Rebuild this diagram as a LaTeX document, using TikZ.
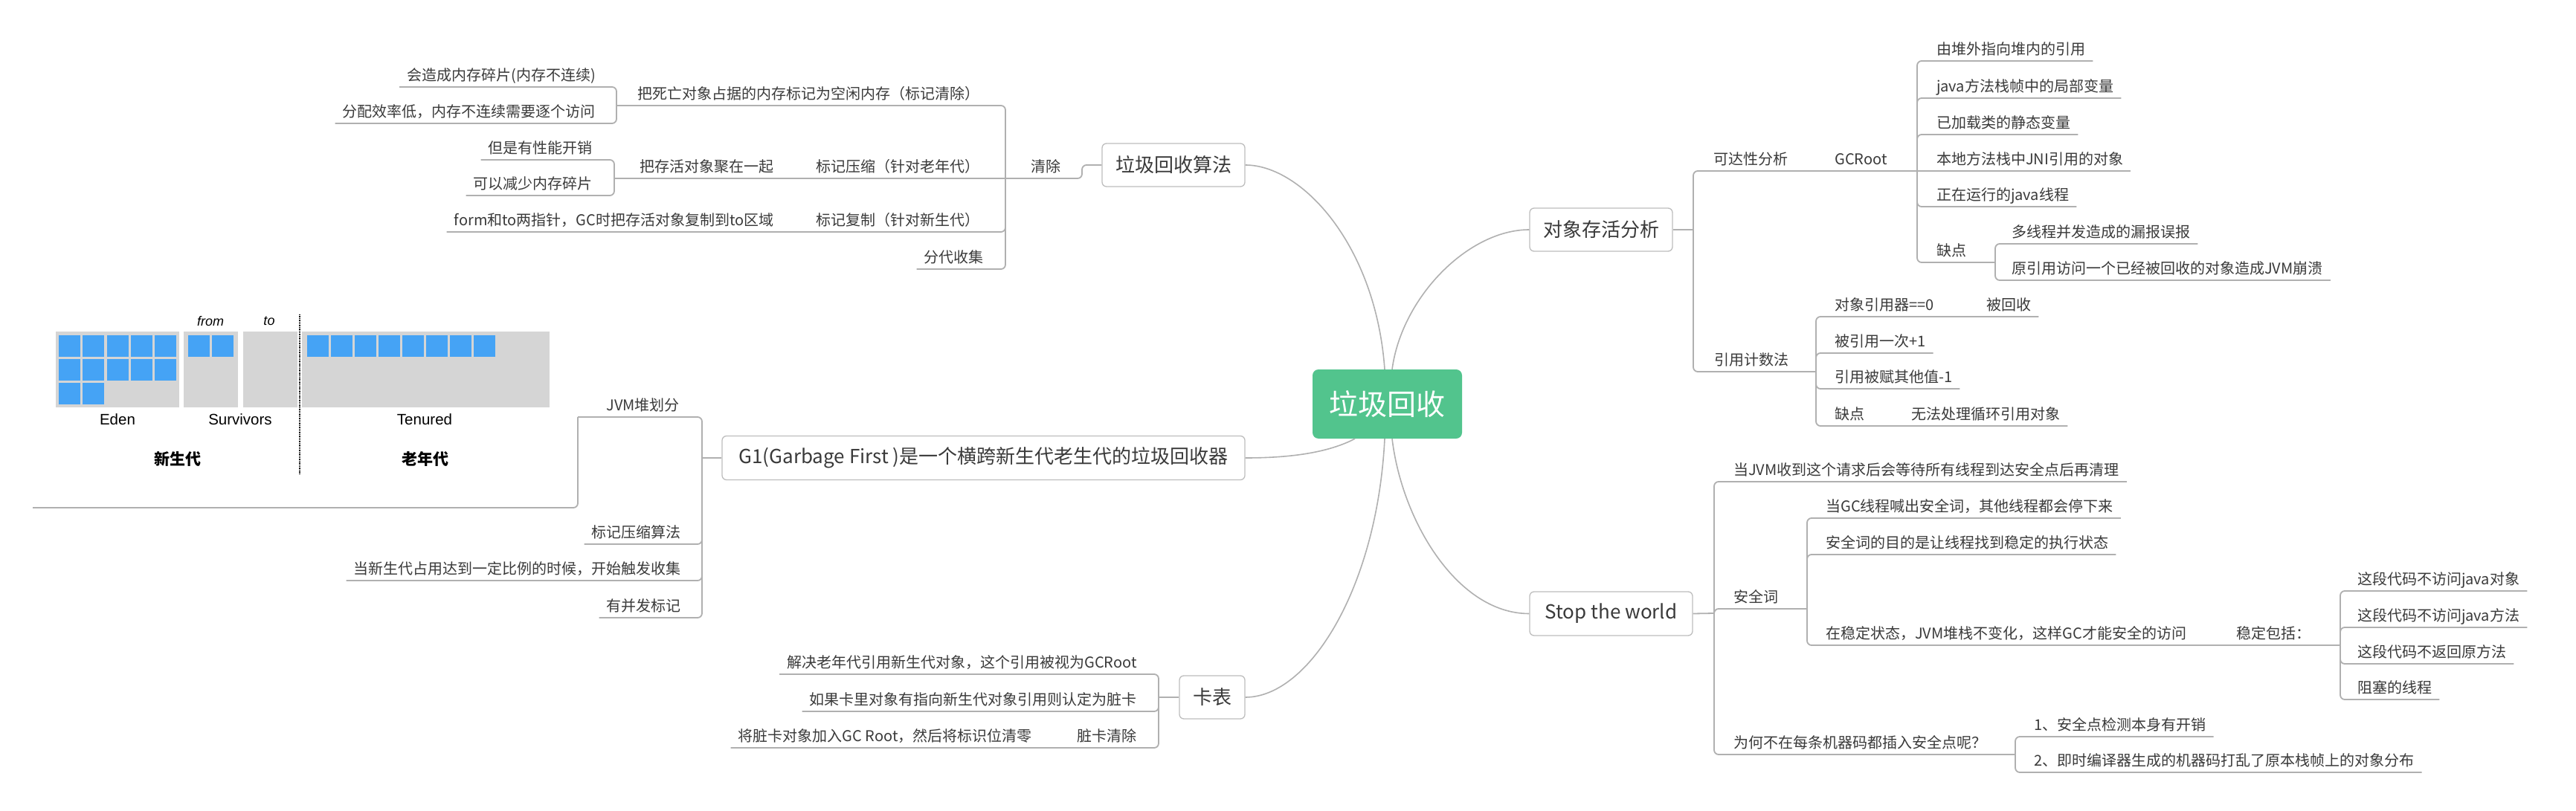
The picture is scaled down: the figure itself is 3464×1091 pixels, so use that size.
\documentclass[tikz,border=0pt]{standalone}
\usepackage{fontspec}
\setmainfont{Noto Sans CJK SC}
\newfontfamily\arialf{Liberation Sans}
\definecolor{linec}{HTML}{B0B0B0}
\definecolor{boxc}{HTML}{BDBDBD}
\definecolor{txtc}{HTML}{3A3A3A}
\definecolor{rootc}{HTML}{52C48D}
\definecolor{blk}{HTML}{45A3F5}
\definecolor{grayr}{HTML}{D5D5D5}
\tikzset{
  ln/.style={draw=linec, line width=1.8pt, rounded corners=6pt},
  curve/.style={draw=linec, line width=1.6pt},
  topic/.style={draw=boxc, line width=1.3pt, rounded corners=6pt, fill=white, text=txtc,
    font=\fontsize{26}{30}\selectfont, inner sep=0pt, align=center},
  rootn/.style={fill=rootc, rounded corners=8pt, text=white, font=\fontsize{39}{44}\selectfont,
    inner sep=0pt, minimum width=201pt, minimum height=93pt},
  leaf/.style={inner xsep=10pt, inner ysep=0pt, text height=16pt, text depth=8.4pt, text=txtc,
    font=\fontsize{20}{22}\selectfont},
  rl/.style={leaf, anchor=south west},
  ll/.style={leaf, anchor=south east},
  hl/.style={inner sep=0pt, text=black},
}
\begin{document}
\begin{tikzpicture}[x=1pt,y=-1pt]
\fill[white] (0,0) rectangle (3464,1091);
\useasboundingbox (0,0) rectangle (3464,1091);

% ---------- main topics ----------
\node[rootn] (root) at (1865.5,543.5) {垃圾回收};
\node[topic, minimum width=192pt, minimum height=58pt] (algo) at (1578,222) {垃圾回收算法};
\node[topic, minimum width=703pt, minimum height=59pt] (g1) at (1322.5,616) {G1(Garbage First )是一个横跨新生代老生代的垃圾回收器};
\node[topic, minimum width=88pt, minimum height=58pt] (card) at (1630,938) {卡表};
\node[topic, minimum width=192pt, minimum height=58pt] (obj) at (2153,309) {对象存活分析};
\node[topic, minimum width=219pt, minimum height=59pt] (stw) at (2166.5,825.5) {Stop the world};

\draw[curve] ([xshift=-3.5pt]root.north) .. controls +(-12,-167) and +(76,0) .. (algo.east);
\draw[curve] ([xshift=6.5pt]root.north) .. controls +(13,-97) and +(-82,0) .. (obj.west);
\draw[curve] ([xshift=-43.5pt]root.south) .. controls +(-42,22) and +(46,0) .. (g1.east);
\draw[curve] ([xshift=-3.5pt]root.south) .. controls +(-10,200) and +(86,0) .. (card.east);
\draw[curve] ([xshift=6.5pt]root.south) .. controls +(13,110) and +(-97,0) .. (stw.west);

% ---------- 垃圾回收算法 ----------
\node[ll] (qc) at (1437,240) {清除};
\node[ll] (a1) at (1328,142) {把死亡对象占据的内存标记为空闲内存（标记清除）};
\node[ll] (a11) at (811,117) {会造成内存碎片(内存不连续)};
\node[ll] (a12) at (811,166) {分配效率低，内存不连续需要逐个访问};
\node[ll] (a2) at (1328,240) {标记压缩（针对老年代）};
\node[ll] (a2b) at (1051,240) {把存活对象聚在一起};
\node[ll] (a21) at (807,215) {但是有性能开销};
\node[ll] (a22) at (807,263) {可以减少内存碎片};
\node[ll] (a3) at (1328,312) {标记复制（针对新生代）};
\node[ll] (a3b) at (1051,312) {form和to两指针，GC时把存活对象复制到to区域};
\node[ll] (a4) at (1333,362) {分代收集};
\coordinate (algoJ) at (1455,222);
\coordinate (qcJ) at (1352,240);
\coordinate (a1J) at (829,142);
\coordinate (a2J) at (826,240);
\draw[ln] (algo.west) -- (algoJ) |- (qcJ);
\draw[ln] (qcJ) |- (a1J);
\draw[ln] (qcJ) -- (a2J);
\draw[ln] (qcJ) |- (a3b.south west);
\draw[ln] (qcJ) |- (a4.south west);
\draw[ln] (a1J) |- (a11.south west);
\draw[ln] (a1J) |- (a12.south west);
\draw[ln] (a2J) |- (a21.south west);
\draw[ln] (a2J) |- (a22.south west);

% ---------- G1 ----------
\node[inner sep=0pt, minimum width=733pt, minimum height=270pt, anchor=south west] (heap) at (44,683) {};
\coordinate (g1J) at (944,616);
\coordinate (jvJ) at (777,561);
\node[ll] (jv) at (924,561) {JVM堆划分};
\node[ll] (b1) at (926,732) {标记压缩算法};
\node[ll] (b2) at (926,781) {当新生代占用达到一定比例的时候，开始触发收集};
\node[ll] (b3) at (926,831) {有并发标记};
\draw[ln] (g1.west) -- (g1J);
\draw[ln] (g1J) |- (jvJ);
\draw[ln] (jvJ) |- (heap.south west);
\draw[ln] (g1J) |- (b1.south west);
\draw[ln] (g1J) |- (b2.south west);
\draw[ln] (g1J) |- (b3.south west);

% heap picture
\fill[grayr] (75,446) rectangle (241,548);
\fill[grayr] (247,446) rectangle (320,548);
\fill[grayr] (327,446) rectangle (400,548);
\fill[grayr] (406,446) rectangle (739,548);
\foreach \i in {0,...,4} {
  \fill[blk] ({79+32.3*\i},451) rectangle +(29,29);
  \fill[blk] ({79+32.3*\i},483) rectangle +(29,29);
}
\foreach \i in {0,1} {
  \fill[blk] ({79+32.3*\i},515) rectangle +(29,29);
  \fill[blk] ({253+32*\i},451) rectangle +(29,29);
}
\foreach \i in {0,...,7} {
  \fill[blk] ({413+32*\i},451) rectangle +(29,29);
}
\draw[black, line width=1.4pt, densely dotted] (403,423) -- (403,637);
\node[hl, font=\arialf\fontsize{18}{20}\selectfont\itshape] (lfrom) at (283,432) {from};
\node[hl, font=\arialf\fontsize{18}{20}\selectfont\itshape] (lto) at (362,432) {to};
\node[hl, font=\arialf\fontsize{20.5}{22}\selectfont] (leden) at (158,564) {Eden};
\node[hl, font=\arialf\fontsize{20.5}{22}\selectfont] (lsurv) at (323,564) {Survivors};
\node[hl, font=\arialf\fontsize{20.5}{22}\selectfont] (lten) at (571,564) {Tenured};
\node[hl, font=\fontsize{21}{23}\selectfont\bfseries] (lyoung) at (239,617) {新生代};
\node[hl, font=\fontsize{21}{23}\selectfont\bfseries] (lold) at (572,617) {老年代};

% ---------- 卡表 ----------
\coordinate (cdJ) at (1558,938);
\node[ll] (c1) at (1539,907) {解决老年代引用新生代对象，这个引用被视为GCRoot};
\node[ll] (c2) at (1539,957) {如果卡里对象有指向新生代对象引用则认定为脏卡};
\node[ll] (c3) at (1539,1006) {脏卡清除};
\node[ll] (c3b) at (1398,1006) {将脏卡对象加入GC Root，然后将标识位清零};
\draw[ln] (card.west) -- (cdJ);
\draw[ln] (cdJ) |- (c1.south west);
\draw[ln] (cdJ) |- (c2.south west);
\draw[ln] (cdJ) |- (c3b.south west);

% ---------- 对象存活分析 ----------
\coordinate (objJ) at (2277,309);
\coordinate (gcJ) at (2578,230);
\coordinate (r6J) at (2683,353);
\coordinate (yyJ) at (2442,500);
\node[rl] (kd) at (2294,230) {可达性分析};
\node[rl] (gcr) at (2457,230) {GCRoot};
\node[rl] (r1) at (2594,82) {由堆外指向堆内的引用};
\node[rl] (r2) at (2594,132) {java方法栈帧中的局部变量};
\node[rl] (r3) at (2594,181) {已加载类的静态变量};
\node[rl] (r4) at (2594,230) {本地方法栈中JNI引用的对象};
\node[rl] (r5) at (2594,278) {正在运行的java线程};
\node[rl] (r6) at (2594,353) {缺点};
\node[rl] (q1) at (2695,328) {多线程并发造成的漏报误报};
\node[rl] (q2) at (2695,377) {原引用访问一个已经被回收的对象造成JVM崩溃};
\node[rl] (yy) at (2295,500) {引用计数法};
\node[rl] (y1) at (2457,426) {对象引用器==0};
\node[rl] (y1b) at (2661,426) {被回收};
\node[rl] (y2) at (2457,475) {被引用一次+1};
\node[rl] (y3) at (2457,523) {引用被赋其他值-1};
\node[rl] (y4) at (2457,573) {缺点};
\node[rl] (y4b) at (2560,573) {无法处理循环引用对象};
\draw[ln] (obj.east) -- (objJ);
\draw[ln] (objJ) |- (gcJ);
\draw[ln] (objJ) |- (yyJ);
\draw[ln] (gcJ) |- (r1.south east);
\draw[ln] (gcJ) |- (r2.south east);
\draw[ln] (gcJ) |- (r3.south east);
\draw[ln] (gcJ) -- (r4.south east);
\draw[ln] (gcJ) |- (r5.south east);
\draw[ln] (gcJ) |- (r6J);
\draw[ln] (r6J) |- (q1.south east);
\draw[ln] (r6J) |- (q2.south east);
\draw[ln] (yyJ) |- (y1b.south east);
\draw[ln] (yyJ) |- (y2.south east);
\draw[ln] (yyJ) |- (y3.south east);
\draw[ln] (yyJ) |- (y4b.south east);

% ---------- Stop the world ----------
\coordinate (stwJ) at (2305,825);
\coordinate (s2J) at (2430,819);
\coordinate (s23J) at (3147,868);
\coordinate (s3J) at (2710,1015);
\node[rl] (s1) at (2321,648) {当JVM收到这个请求后会等待所有线程到达安全点后再清理};
\node[rl] (s2) at (2321,819) {安全词};
\node[rl] (s21) at (2445,697) {当GC线程喊出安全词，其他线程都会停下来};
\node[rl] (s22) at (2445,746) {安全词的目的是让线程找到稳定的执行状态};
\node[rl] (s23) at (2445,868) {在稳定状态，JVM堆栈不变化，这样GC才能安全的访问};
\node[rl] (s23b) at (2997,868) {稳定包括：};
\node[rl] (t1) at (3160,795) {这段代码不访问java对象};
\node[rl] (t2) at (3160,844) {这段代码不访问java方法};
\node[rl] (t3) at (3160,893) {这段代码不返回原方法};
\node[rl] (t4) at (3160,941) {阻塞的线程};
\node[rl] (s3) at (2321,1015) {为何不在每条机器码都插入安全点呢？};
\node[rl] (u1) at (2725,991) {1、安全点检测本身有开销};
\node[rl] (u2) at (2725,1039) {2、即时编译器生成的机器码打乱了原本栈帧上的对象分布};
\draw[ln] (stw.east) -- (stwJ);
\draw[ln] (stwJ) |- (s1.south east);
\draw[ln] (stwJ) |- (s2J);
\draw[ln] (stwJ) |- (s3J);
\draw[ln] (s2J) |- (s21.south east);
\draw[ln] (s2J) |- (s22.south east);
\draw[ln] (s2J) |- (s23J);
\draw[ln] (s23J) |- (t1.south east);
\draw[ln] (s23J) |- (t2.south east);
\draw[ln] (s23J) |- (t3.south east);
\draw[ln] (s23J) |- (t4.south east);
\draw[ln] (s3J) |- (u1.south east);
\draw[ln] (s3J) |- (u2.south east);
\end{tikzpicture}
\end{document}
